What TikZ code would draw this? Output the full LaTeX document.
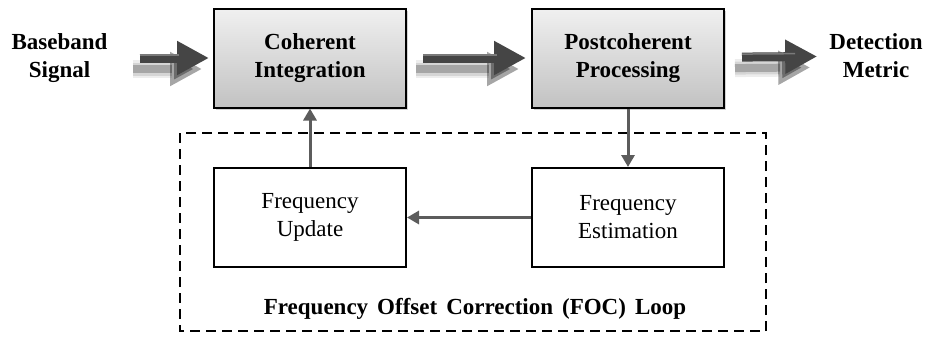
\documentclass[tikz,border=0pt]{standalone}
\usepackage{fontspec}
\setmainfont{Liberation Serif}
\usetikzlibrary{arrows.meta,shadows}

\definecolor{boxtop}{HTML}{F0F0F0}
\definecolor{boxbot}{HTML}{C2C2C2}
\definecolor{fatgray}{HTML}{454545}
\definecolor{fatlight}{HTML}{7A7A7A}
\definecolor{linkgray}{HTML}{5C5C5C}
\newcommand{\bigtext}{\fontsize{23}{28}\selectfont}
\newcommand{\widegaps}{\spaceskip=9pt\relax}

\tikzset{
  procbox/.style={draw, line width=2pt, minimum width=192pt, minimum height=99pt,
    top color=boxtop, bottom color=boxbot, align=center, font=\bigtext\bfseries,
    drop shadow={opacity=.35, shadow xshift=2pt, shadow yshift=-2pt}},
  loopstep/.style={draw, line width=2pt, minimum width=192pt, minimum height=99pt,
    fill=white, align=center, font=\bigtext},
  endtext/.style={align=center, inner sep=0pt, font=\bigtext\bfseries},
  fatshadow/.style={draw=black, opacity=#1,
      transform canvas={shift={(-7pt,-11pt)}}},
  fatarrow/.style={draw=fatgray, line width=9pt, -{Triangle[length=32pt,width=32pt]},
    preaction={fatshadow=.07, line width=18pt},
    preaction={fatshadow=.10, line width=13pt},
    preaction={fatshadow=.22, line width=8pt},
    postaction={draw=fatlight, line width=1.5pt, -, shorten >=34pt,
      transform canvas={shift={(0pt,3pt)}}}},
  link/.style={draw=linkgray, line width=3pt, -{Triangle[length=12pt,width=13pt]}},
}

\begin{document}
\begin{tikzpicture}[x=1pt,y=-1pt]
\def\row{58}
\def\low{217.5}
\useasboundingbox (0,0) rectangle (931,338);

\draw[line width=2pt, dash pattern=on 10pt off 6pt] (180,133) rectangle (766,331);

\node[endtext] (base) at (59.5,\row) {Baseband\\Signal};
\node[procbox] (coh) at (310,\row) {Coherent\\Integration};
\node[procbox] (post) at (628,\row) {Postcoherent\\Processing};
\node[endtext] (det) at (876,56) {Detection\\Metric};
\node[loopstep] (upd) at (310,\low) {Frequency\\Update};
\node[loopstep] (est) at (628,\low) {Frequency\\Estimation};
\node[endtext, font=\bigtext\bfseries\widegaps] (foc) at (475,309) {Frequency Offset Correction (FOC) Loop};

% main chain
\path (base) edge[fatarrow, shorten <=32pt, shorten >=4pt] (coh);
\path (coh) edge[fatarrow, shorten <=16pt, shorten >=5pt] (post);
\path (post) edge[fatarrow, shorten <=17pt, shorten >=12pt] (det);

% FOC loop
\path (post) edge[link] (est);
\path (est) edge[link] (upd);
\path (upd) edge[link] (coh);
\end{tikzpicture}
\end{document}
